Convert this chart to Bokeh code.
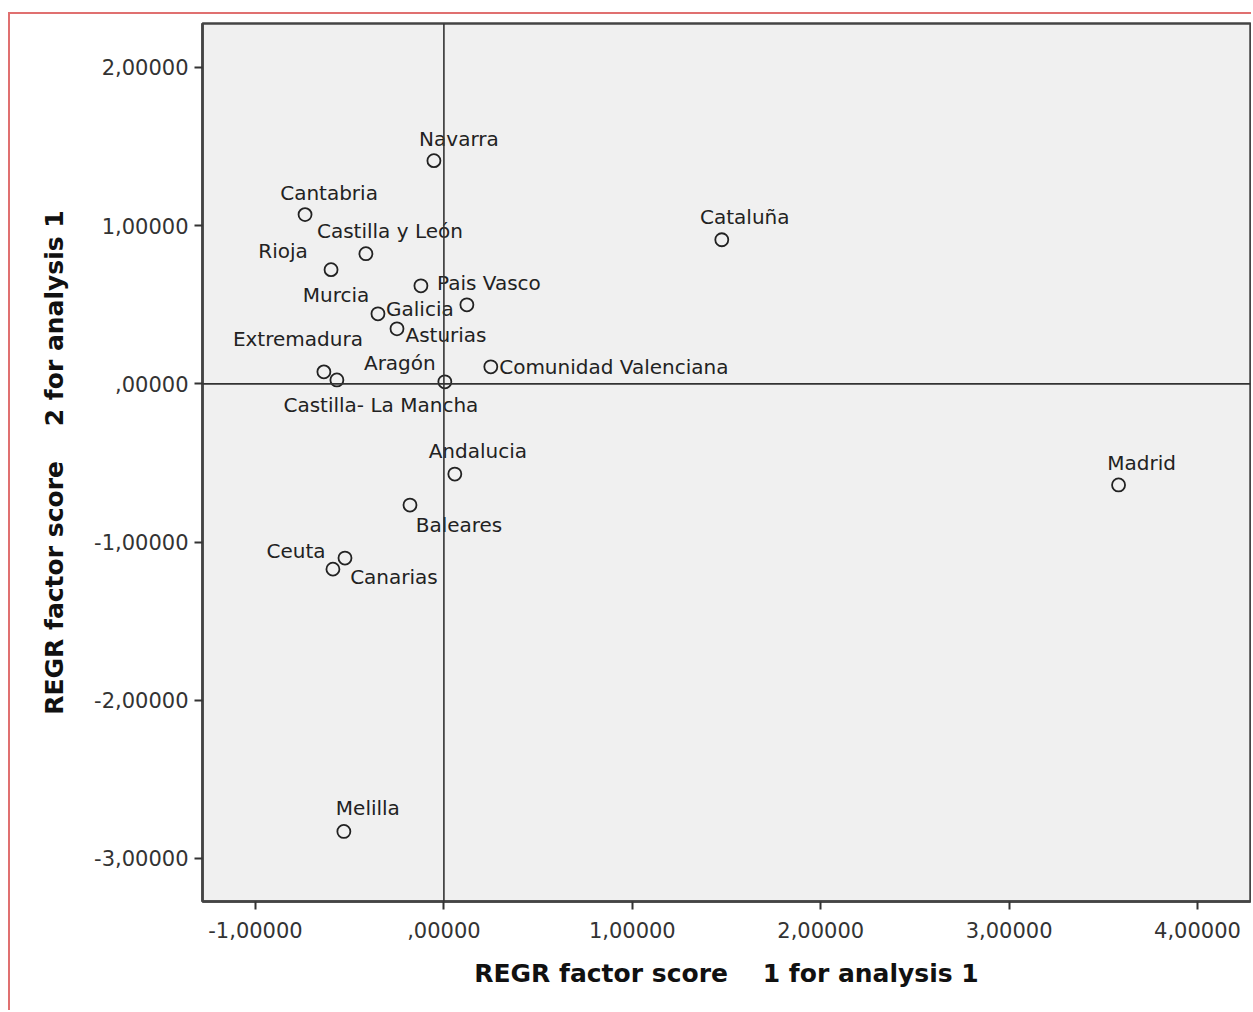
from bokeh.plotting import figure
from bokeh.models import ColumnDataSource, Range1d, CustomJSTickFormatter, Span
from bokeh.embed import file_html
from bokeh.resources import INLINE
from bokeh.core.properties import value

regions = ["Navarra", "Cantabria", "Castilla y León", "Rioja", "Pais Vasco", "Galicia",
           "Cataluña", "Murcia", "Asturias", "Extremadura", "Castilla- La Mancha", "Aragón",
           "Comunidad Valenciana", "Andalucia", "Madrid", "Baleares", "Ceuta", "Canarias", "Melilla"]
score1 = [-0.053, -0.737, -0.414, -0.599, -0.122, 0.122,
          1.475, -0.350, -0.249, -0.637, -0.568, 0.005,
          0.249, 0.058, 3.581, -0.180, -0.525, -0.589, -0.531]
score2 = [1.411, 1.070, 0.823, 0.722, 0.620, 0.500,
          0.911, 0.443, 0.348, 0.076, 0.025, 0.013,
          0.108, -0.570, -0.639, -0.766, -1.101, -1.171, -2.829]
# label placement offsets (screen px), style only
label_dx = [25, 24, 24, -48, 68, -47, 23, -42, 49, -26, 44, -45, 123, 23, 23, 49, -49, 61, 24]
label_dy = [-22, -22, -23, -19, -3, 4, -23, -19, 6, -33, 25, -19, 0, -23, -22, 20, -7, 8, -23]

x_ticks = [-1, 0, 1, 2, 3, 4]
y_ticks = [-3, -2, -1, 0, 1, 2]
x_title = "REGR factor score \u00a0\u00a0 1 for analysis 1"
y_title = "REGR factor score \u00a0\u00a0 2 for analysis 1"

src = ColumnDataSource(dict(region=regions, score1=score1, score2=score2, dx=label_dx, dy=label_dy))

p = figure(width=1243, height=998, output_backend="svg", toolbar_location=None,
           x_range=Range1d(-1.2813, 4.2813), y_range=Range1d(-3.272, 2.278),
           min_border_left=192, min_border_right=3, min_border_top=9, min_border_bottom=111)
p.styles = {"margin-top": "12px", "margin-left": "8px",
            "border-left": "2px solid #E07070", "border-top": "2px solid #E07070"}

p.background_fill_color = "#F0F0F0"
p.border_fill_color = "white"
p.outline_line_color = "#444444"
p.outline_line_width = 2.5
p.grid.visible = False

fmt = CustomJSTickFormatter(code="""
let s = tick.toFixed(5).replace('.', ',');
if (s.startsWith('0,')) s = s.slice(1);
return s;
""")

for ax, ticks, title in ((p.xaxis[0], x_ticks, x_title), (p.yaxis[0], y_ticks, y_title)):
    ax.ticker = ticks
    ax.formatter = fmt
    ax.axis_line_color = "#444444"
    ax.axis_line_width = 2.5
    ax.major_tick_in = 0
    ax.major_tick_out = 8
    ax.major_tick_line_width = 2
    ax.major_tick_line_color = "#333333"
    ax.minor_tick_line_color = None
    ax.major_label_text_font = "DejaVu Sans"
    ax.major_label_text_font_size = "21px"
    ax.major_label_text_color = "#333333"
    ax.axis_label = title
    ax.axis_label_text_font = "DejaVu Sans"
    ax.axis_label_text_font_size = "25px"
    ax.axis_label_text_font_style = "bold"
    ax.axis_label_text_color = "#111111"

p.xaxis.major_label_standoff = 12
p.yaxis.major_label_standoff = 6
p.xaxis.axis_label_standoff = 18
p.yaxis.axis_label_standoff = 22

p.add_layout(Span(location=0, dimension="height", line_color="#333333", line_width=1.6))
p.add_layout(Span(location=0, dimension="width", line_color="#333333", line_width=1.6))

p.scatter(x="score1", y="score2", source=src, marker="circle", size=13,
          fill_color=None, line_color="#222222", line_width=1.8)
p.text(x="score1", y="score2", text="region", x_offset="dx", y_offset="dy", source=src,
       text_font=value("DejaVu Sans"), text_font_size="20px", text_align="center",
       text_baseline="middle", text_color="#222222")

open("out.html", "w").write(file_html(p, INLINE))
